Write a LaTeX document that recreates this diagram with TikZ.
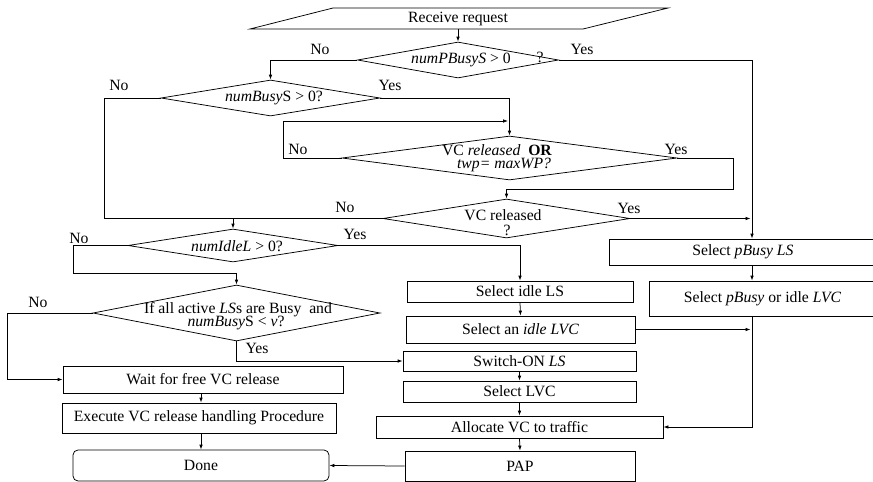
\documentclass[tikz,border=0pt]{standalone}
\usepackage{fontspec}
\setmainfont{Liberation Serif}
\usetikzlibrary{shapes.geometric,arrows.meta,calc}

\begin{document}
\begin{tikzpicture}[x=1pt,y=-1pt,
  font=\fontsize{15.7}{18}\selectfont,
  line width=0.75pt,
  every node/.style={inner sep=0pt},
  box/.style={draw, rectangle},
  dec/.style={draw, diamond},
  rbox/.style={draw, rectangle, rounded corners=5pt},
  twoline/.style={text height=8pt, text depth=1pt},
  arr/.style={-{Latex[length=5pt,width=3.6pt]}}]

\useasboundingbox (0,0) rectangle (873,482);

% ---------- input ----------
\node[minimum width=335pt, minimum height=21pt] (recv) at (458,18.5) {Receive request};
\draw (250,29) -- (333,8) -- (668,8) -- (583,29) -- cycle;

% ---------- decisions ----------
\node[dec, minimum width=201pt, minimum height=36pt] (d1) at (458,60) {};
\node (d1t) at (461,60) {\textit{numPBusyS} > 0};
\node (d1q) at (540,57) {?};

\node[dec, minimum width=219pt, minimum height=36pt] (d2) at (270.5,98) {};
\node (d2t) at (274,98) {\textit{numBusy}S > 0?};

\node[dec, minimum width=335pt, minimum height=44pt] (d3) at (509.5,158) {};
\node[twoline] (d3a) at (497,151.5) {VC \textit{released}\enspace\textbf{OR}};
\node[twoline] (d3b) at (504,164.5) {\textit{twp= maxWP?}};

\node[dec, minimum width=247pt, minimum height=39pt] (d4) at (506.5,218.5) {};
\node (d4t) at (503,215) {VC released};
\node (d4q) at (507,230) {?};

\node[dec, minimum width=210pt, minimum height=33pt] (d5) at (233,245.5) {};
\node (d5t) at (237,246) {\textit{numIdleL} > 0?};

\node[dec, minimum width=287pt, minimum height=56pt] (d6) at (236.5,313) {};
\node[twoline] (d6a) at (238,309.5) {If all active \textit{LS}s are Busy\enspace and};
\node[twoline] (d6b) at (236,322.5) {\textit{numBusy}S < \textit{v}?};

% ---------- process boxes ----------
\node[box, minimum width=268pt, minimum height=26pt] (pls) at (743,252) {Select \textit{pBusy LS}};
\node[box, minimum width=227pt, minimum height=35pt] (plvc) at (762.5,298.5) {Select \textit{pBusy} or idle \textit{LVC}};

\node[box, minimum width=226pt, minimum height=21pt] (ils) at (520,291.5) {Select idle LS};
\node[box, minimum width=229pt, minimum height=27pt] (ilvc) at (520.5,329.5) {Select an \textit{idle LVC}};
\node[box, minimum width=233pt, minimum height=20pt] (son) at (519.5,361) {Switch-ON \textit{LS}};
\node[box, minimum width=233pt, minimum height=21pt] (slvc) at (519.5,391.5) {Select LVC};
\node[box, minimum width=287pt, minimum height=22pt] (alloc) at (519.5,427) {Allocate VC to traffic};
\node[box, minimum width=230pt, minimum height=30pt] (pap) at (520,466) {PAP};

\node[box, minimum width=280pt, minimum height=27pt] (wait) at (203,379.5) {Wait for free VC release};
\node[box, minimum width=274pt, minimum height=30pt] (exec) at (199,418) {Execute VC release handling Procedure};
\node[rbox, minimum width=256pt, minimum height=31pt] (done) at (201,465.5) {Done};

% ---------- routing points ----------
\coordinate (colR) at (752,0);
\coordinate (loopL) at (283,121);
\coordinate (loopR) at (733,189);
\coordinate (colL) at (104,218.5);
\coordinate (d5L) at (73,273);
\coordinate (d6L) at (7,379.5);

% ---------- connectors ----------
\draw[arr] (recv.south) -- (d1.north);
\draw[arr] (d1.west) -| (d2.north);
\draw[arr] (d1.east) -| (colR |- pls.north);
\draw[arr] (d2.east) -| (d3.north);
\draw[arr] (d3.west) -| (loopL) -- ($(d3.north |- loopL)+(-1.5,0)$);
\draw[arr] (d3.east) -| (loopR) -| (d4.north);
\draw[arr] (d4.east) -- ($(colR |- d4.east)+(-1.5,0)$);
\draw (d2.west) -| (colL) -- (d4.west);
\draw[arr] (d5.north |- d4.west) -- (d5.north);
\draw[arr] (d5.east) -| (ils.north);
\draw[arr] (d5.west) -| (d5L) -| (d6.north);
\draw[arr] (d6.west) -| (d6L) -- (wait.west);
\draw[arr] (d6.south) |- (son.west);
\draw[arr] (ils.south) -- (ilvc.north);
\draw[arr] (ilvc.east) -- ($(colR |- ilvc.east)+(-1.5,0)$);
\draw[arr] (son.south) -- (slvc.north);
\draw[arr] (slvc.south) -- (alloc.north);
\draw[arr] (alloc.south) -- (pap.north);
\draw[arr] (colR |- pls.south) -- (colR |- plvc.north);
\draw[arr] (colR |- plvc.south) |- (alloc.east);
\draw[arr] (done.north |- wait.south) -- (done.north |- exec.north);
\draw[arr] (exec.south -| done.north) -- (done.north);
\draw[arr] (pap.west) -- (done.east);

% ---------- branch labels ----------
\node (no1) at (320,49) {No};
\node (yes1) at (582,49) {Yes};
\node (no2) at (119,85) {No};
\node (yes2) at (390,85) {Yes};
\node (no3) at (298,149) {No};
\node (yes3) at (676,149) {Yes};
\node (no4) at (345,207) {No};
\node (yes4) at (629,208) {Yes};
\node (no5) at (79,238) {No};
\node (yes5) at (355,234) {Yes};
\node (no6) at (38,302) {No};
\node (yes6) at (257,348) {Yes};
\end{tikzpicture}
\end{document}
